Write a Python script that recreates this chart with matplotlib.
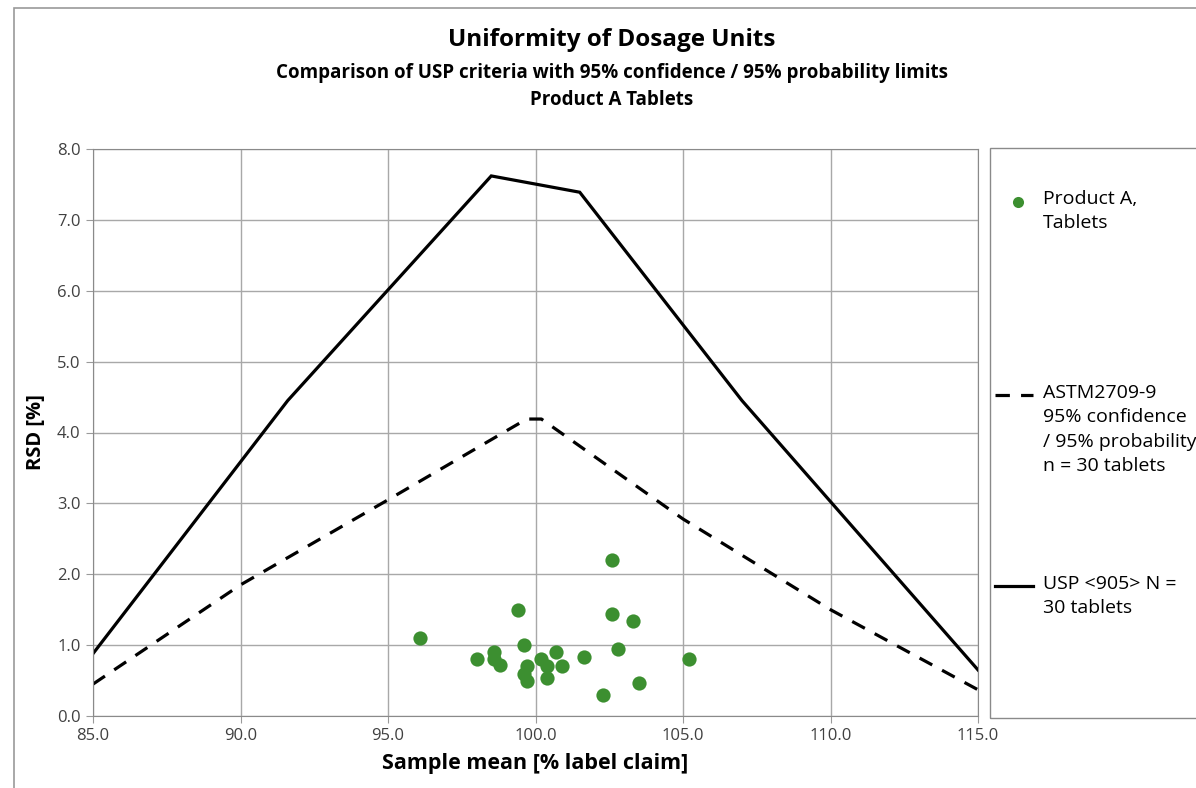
import numpy as np
import matplotlib
matplotlib.use("Agg")
import matplotlib.pyplot as plt
from matplotlib.patches import Rectangle
from matplotlib.lines import Line2D
from matplotlib.ticker import FormatStrFormatter

# USP <905> acceptance limit (n = 30)
usp_x = [85.0, 91.6, 98.5, 101.5, 107.0, 115.0]
usp_y = [0.88, 4.45, 7.62, 7.39, 4.45, 0.65]
# ASTM E2709 95%/95% limit
astm_x = [85.0, 90.0, 95.0, 99.7, 100.2, 105.0, 110.0, 115.0]
astm_y = [0.45, 1.85, 3.05, 4.19, 4.19, 2.78, 1.50, 0.37]
# Product A batches
mean_x = [102.6, 99.4, 102.6, 103.3, 99.6, 102.8, 98.6, 100.7, 98.0, 98.6, 98.8,
          100.2, 101.65, 105.2, 99.7, 100.4, 100.9, 99.6, 99.7, 100.4, 103.5, 102.3, 96.1]
rsd_y = [2.20, 1.50, 1.44, 1.34, 1.00, 0.95, 0.90, 0.90, 0.80, 0.80, 0.72,
         0.80, 0.83, 0.80, 0.70, 0.70, 0.70, 0.59, 0.49, 0.53, 0.47, 0.30, 1.10]

plt.rcParams['font.family'] = ['Open Sans', 'DejaVu Sans']
W, H = 1196, 788
fig = plt.figure(figsize=(W/100, H/100), dpi=100)
fig.patches.append(Rectangle((14/W, -0.1), 1.2, 1.1-8/H, transform=fig.transFigure,
                             fill=False, ec='#9a9a9a', lw=1.2))

ax = fig.add_axes([93/W, 1-716/H, (978-93)/W, (716-149)/H])
ax.plot(usp_x, usp_y, color='black', lw=2.3, solid_joinstyle='miter')
ax.plot(astm_x, astm_y, color='black', lw=2.3, ls=(0, (4.5, 3.5)))
ax.scatter(mean_x, rsd_y, s=105, color='#3c8f30', zorder=3, lw=0)
ax.set_xlim(85, 115); ax.set_ylim(0, 8)
ax.set_xticks(np.arange(85, 116, 5)); ax.set_yticks(np.arange(0, 8.1, 1))
ax.xaxis.set_major_formatter(FormatStrFormatter('%.1f'))
ax.yaxis.set_major_formatter(FormatStrFormatter('%.1f'))
ax.grid(color='#a8a8a8', lw=1.0)
ax.set_axisbelow(True)
for s in ax.spines.values():
    s.set_color('#8a8a8a')
ax.tick_params(direction='out', length=5, color='#9a9a9a', labelcolor='#404040',
               labelsize=12, pad=4)
ax.set_xlabel("Sample mean [% label claim]", fontsize=15.5, fontweight='bold', labelpad=6)
ax.set_ylabel("RSD [%]", fontsize=14.5, fontweight='bold', labelpad=8)

fig.text(612/W, 1-40/H, "Uniformity of Dosage Units", ha='center', va='center',
         fontsize=17.5, fontweight='bold')
fig.text(612/W, 1-73/H, "Comparison of USP criteria with 95% confidence / 95% probability limits",
         ha='center', va='center', fontsize=13.5, fontweight='bold')
fig.text(612/W, 1-100/H, "Product A Tablets", ha='center', va='center',
         fontsize=13.5, fontweight='bold')

# legend box
fig.patches.append(Rectangle((990/W, 1-718/H), 0.3, (718-148)/H, transform=fig.transFigure,
                             fill=False, ec='#8a8a8a', lw=1.0))
fig.lines.append(Line2D([1018/W], [1-202/H], transform=fig.transFigure, marker='o',
                        ms=8, color='#3c8f30', mec='none', ls='none'))
fig.lines.append(Line2D([995/W, 1033/W], [1-395/H, 1-395/H], transform=fig.transFigure,
                        color='black', lw=2.3, ls=(0, (4.5, 3.5))))
fig.lines.append(Line2D([995/W, 1033/W], [1-586/H, 1-586/H], transform=fig.transFigure,
                        color='black', lw=2.3))
leg_txt = ["Product A,\nTablets",
           "ASTM2709-9\n95% confidence\n/ 95% probability\nn = 30 tablets",
           "USP <905> N =\n30 tablets"]
for t, y in zip(leg_txt, [190, 384, 575]):
    fig.text(1043/W, 1-y/H, t, ha='left', va='top', fontsize=14, linespacing=1.45)

fig.savefig("out.png", dpi=100)
